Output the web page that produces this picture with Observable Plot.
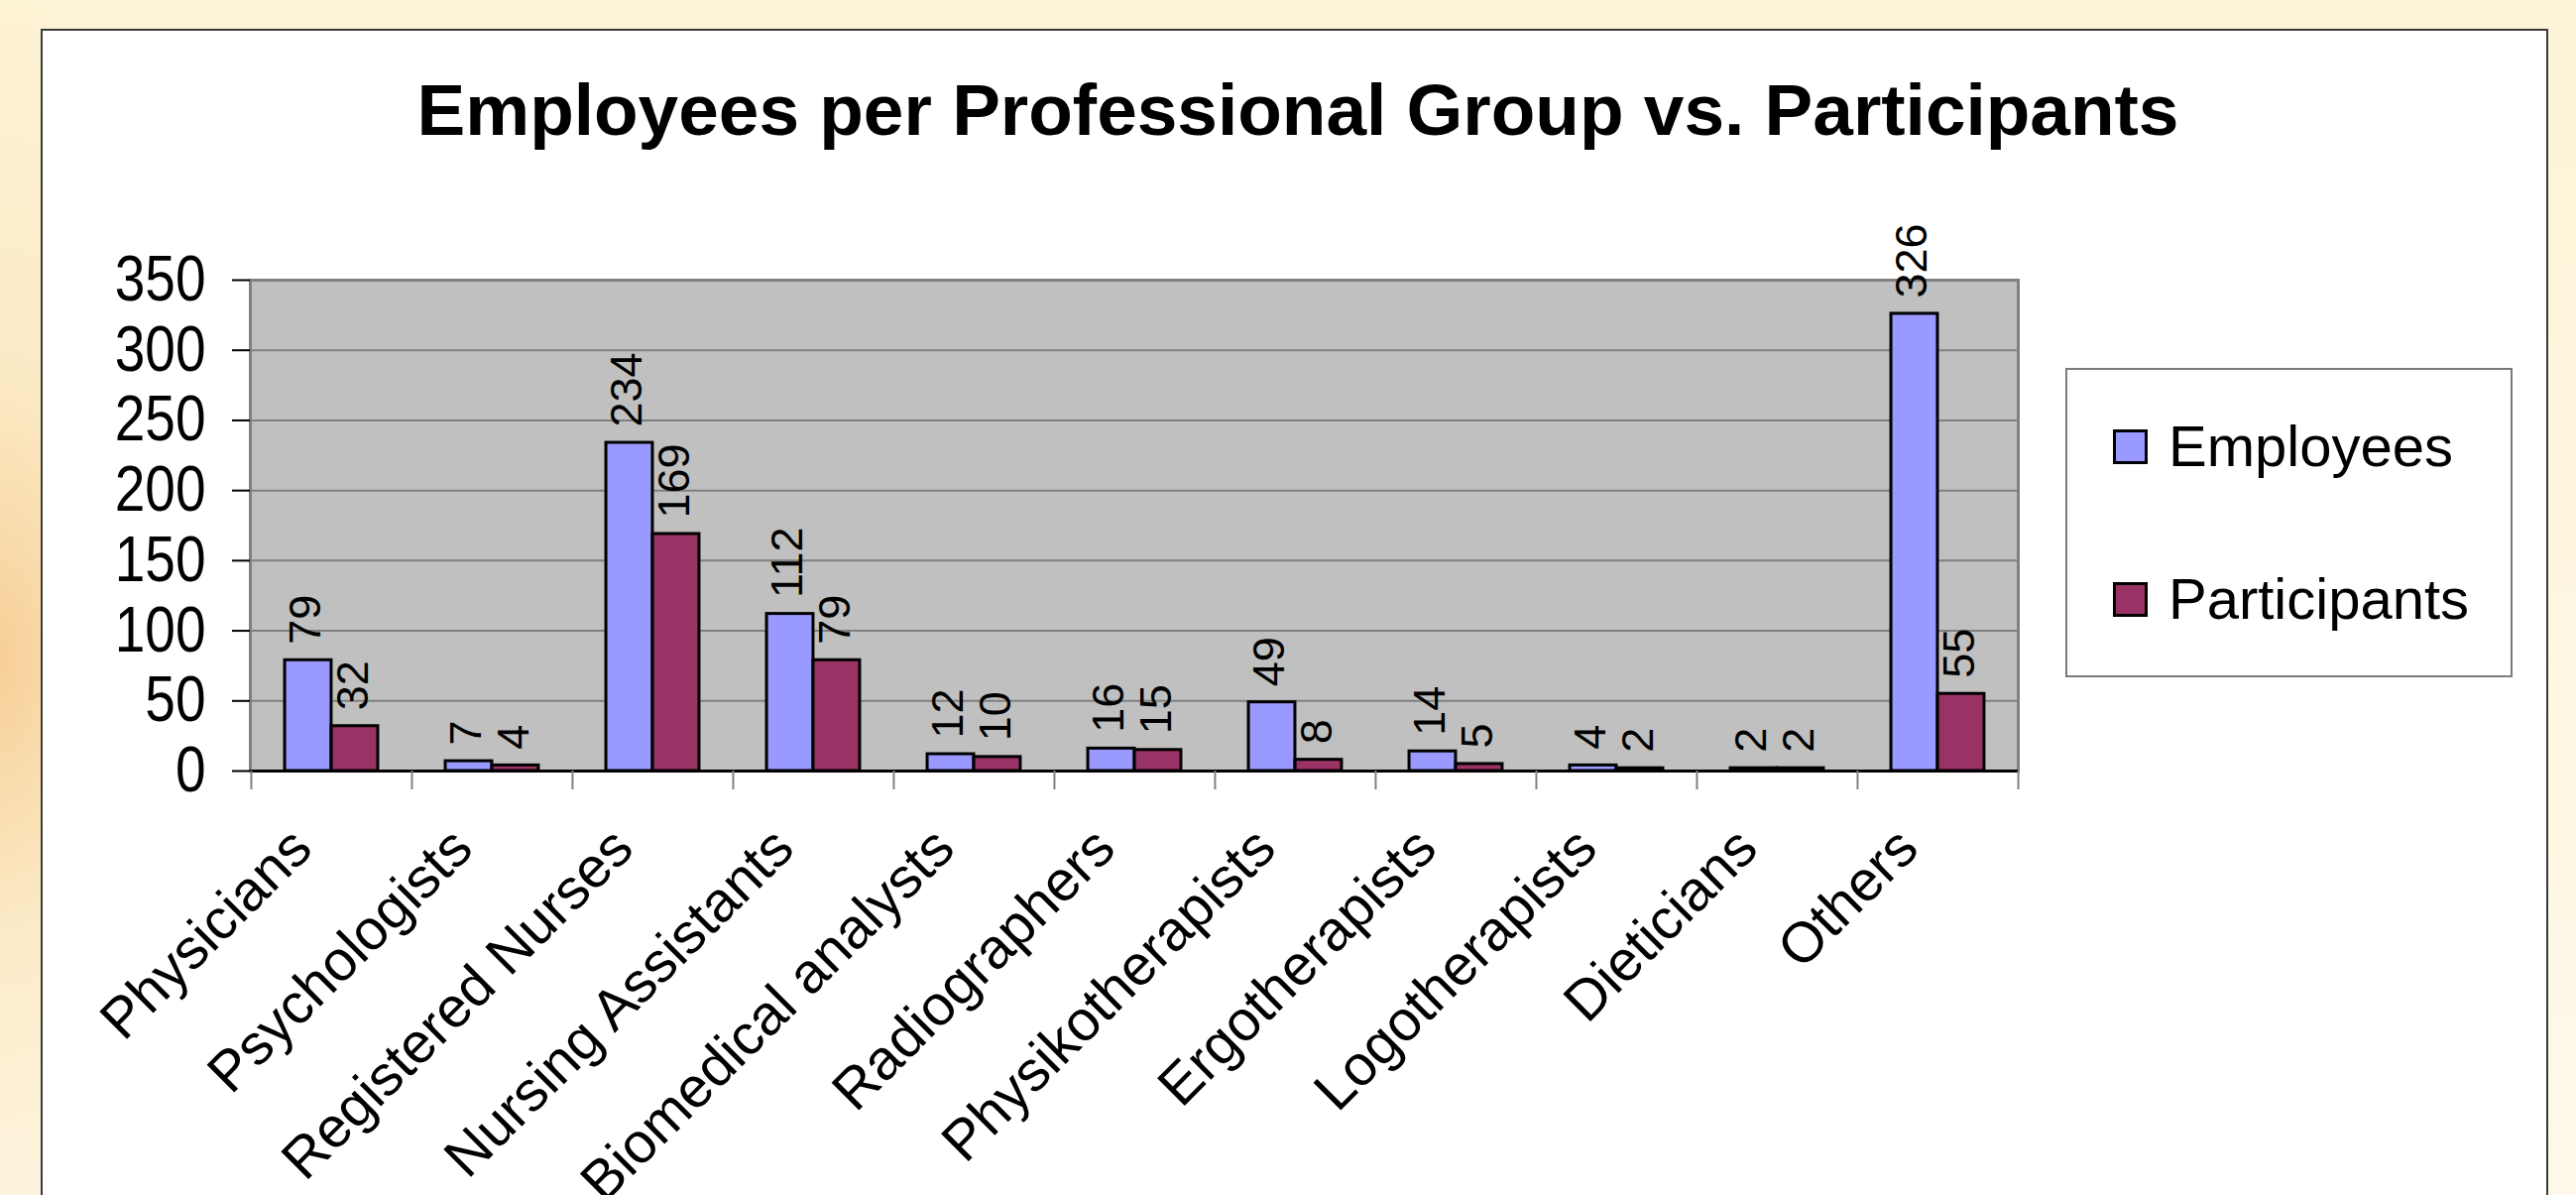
<!DOCTYPE html>
<html>
<head>
<meta charset="utf-8">
<script src="https://cdn.jsdelivr.net/npm/d3@7"></script>
<script src="https://cdn.jsdelivr.net/npm/@observablehq/plot@0.6"></script>
<style>
  html, body { margin: 0; padding: 0; }
  body {
    width: 2598px; height: 1205px; overflow: hidden; position: relative;
    background:
      radial-gradient(ellipse 300px 700px at 0% 55%, #f7cf96 0%, rgba(250,226,180,0.6) 40%, rgba(253,246,228,0) 100%),
      linear-gradient(180deg, #fdf3d6 0%, #fef9ea 100%);
    font-family: "Liberation Sans", Arial, sans-serif;
  }
  #panel {
    position: absolute; left: 41px; top: 29px; width: 2529px; height: 1400px;
    background: #ffffff; border: 2px solid #3a3a3a; box-sizing: border-box;
  }
  #title {
    position: absolute; left: 0; width: 2618px; top: 74px; text-align: center;
    font-size: 73px; font-weight: bold; line-height: 1; color: #000;
  }
  #chart { position: absolute; left: 0; top: 0; }
  #legend {
    position: absolute; left: 2083px; top: 371px; width: 451px; height: 312px;
    border: 2px solid #7a7a7a; box-sizing: border-box; background: #fff;
  }
  .item { position: absolute; left: 46px; font-size: 58px; line-height: 1; color: #000; white-space: nowrap; }
  .sw { position: absolute; left: 0; width: 35px; height: 35px; border: 3px solid #000; box-sizing: border-box; }
  .lbl { position: absolute; left: 56px; }
</style>
</head>
<body>
<div id="panel"></div>
<div id="title">Employees per Professional Group vs. Participants</div>
<div id="chart"></div>
<div id="legend"></div>
<script>
// ---- data ----
const categories = ["Physicians", "Psychologists", "Registered Nurses", "Nursing Assistants", "Biomedical analysts", "Radiographers", "Physikotherapists", "Ergotherapists", "Logotherapists", "Dieticians", "Others"];
const employees = [79, 7, 234, 112, 12, 16, 49, 14, 4, 2, 326];
const participants = [32, 4, 169, 79, 10, 15, 8, 5, 2, 2, 55];
const seriesNames = ["Employees", "Participants"];
const seriesColors = ["#9999FF", "#993366"];
const yTicks = [0, 50, 100, 150, 200, 250, 300, 350];

const rows = categories.map((c, i) => ({category: c, employees: employees[i], participants: participants[i]}));

// ---- layout ----
const W = 2598, H = 1205;
const mL = 252, mR = W - 2035, mT = 282, mB = H - 777;
const bw = (W - mL - mR) / categories.length;
const barW = 47;
const regular = "'Liberation Sans', Arial, sans-serif";

const chart = Plot.plot({
  width: W, height: H,
  marginLeft: mL, marginRight: mR, marginTop: mT, marginBottom: mB,
  style: {background: "transparent", color: "#000", fontFamily: regular, overflow: "visible"},
  x: {type: "band", domain: categories, padding: 0, axis: null},
  y: {domain: [0, 350], axis: null},
  marks: [
    Plot.frame({fill: "#C0C0C0", stroke: "#808080", strokeWidth: 3}),
    Plot.ruleY(yTicks.filter(d => d > 0 && d < 350), {stroke: "#808080", strokeWidth: 2}),
    Plot.barY(rows, {x: "category", y: "employees", fill: seriesColors[0], stroke: "#000", strokeWidth: 3,
      insetLeft: bw / 2 - barW, insetRight: bw / 2}),
    Plot.barY(rows, {x: "category", y: "participants", fill: seriesColors[1], stroke: "#000", strokeWidth: 3,
      insetLeft: bw / 2, insetRight: bw / 2 - barW}),
    Plot.text(rows, {x: "category", y: "employees", text: d => String(d.employees), rotate: -90,
      textAnchor: "start", lineAnchor: "middle", dx: -barW / 2 - 2, dy: -16, fontSize: 45, fill: "#000"}),
    Plot.text(rows, {x: "category", y: "participants", text: d => String(d.participants), rotate: -90,
      textAnchor: "start", lineAnchor: "middle", dx: barW / 2 - 1, dy: -16, fontSize: 45, fill: "#000"}),
    Plot.ruleY([0], {stroke: "#000", strokeWidth: 3}),
    // y axis
    Plot.axisY({ticks: yTicks, tickSize: 18, tickPadding: 27, fontSize: 64,
      stroke: "#000", strokeWidth: 2, tickFormat: d => String(d), label: null}),
    // category boundary ticks
    Plot.axisX({ticks: categories, tickSize: 19, dx: -bw / 2, stroke: "#808080", strokeWidth: 2,
      tickFormat: () => "", label: null}),
    Plot.axisX({ticks: [categories[categories.length - 1]], tickSize: 19, dx: bw / 2, stroke: "#808080",
      strokeWidth: 2, tickFormat: () => "", label: null}),
    // category labels
    Plot.axisX({ticks: categories, tickSize: 0, tickPadding: 68, tickRotate: -45, dx: -30,
      textAnchor: "end", lineAnchor: "middle", fontSize: 57, fill: "#000", label: null})
  ]
});
document.getElementById("chart").appendChild(chart);

// condensed look of the value-axis labels
d3.select(chart).selectAll("g[aria-label='y-axis tick label'] text").each(function () {
  const t = this.getAttribute("transform") || "";
  this.setAttribute("transform", t + " scale(0.86,1)");
});

// ---- legend ----
const legend = document.getElementById("legend");
const tops = [48, 202];
seriesNames.forEach((name, i) => {
  const it = document.createElement("div");
  it.className = "item";
  it.style.top = tops[i] + "px";
  it.innerHTML = `<div class="sw" style="background:${seriesColors[i]};top:12px"></div><div class="lbl">${name}</div>`;
  legend.appendChild(it);
});
</script>
</body>
</html>
